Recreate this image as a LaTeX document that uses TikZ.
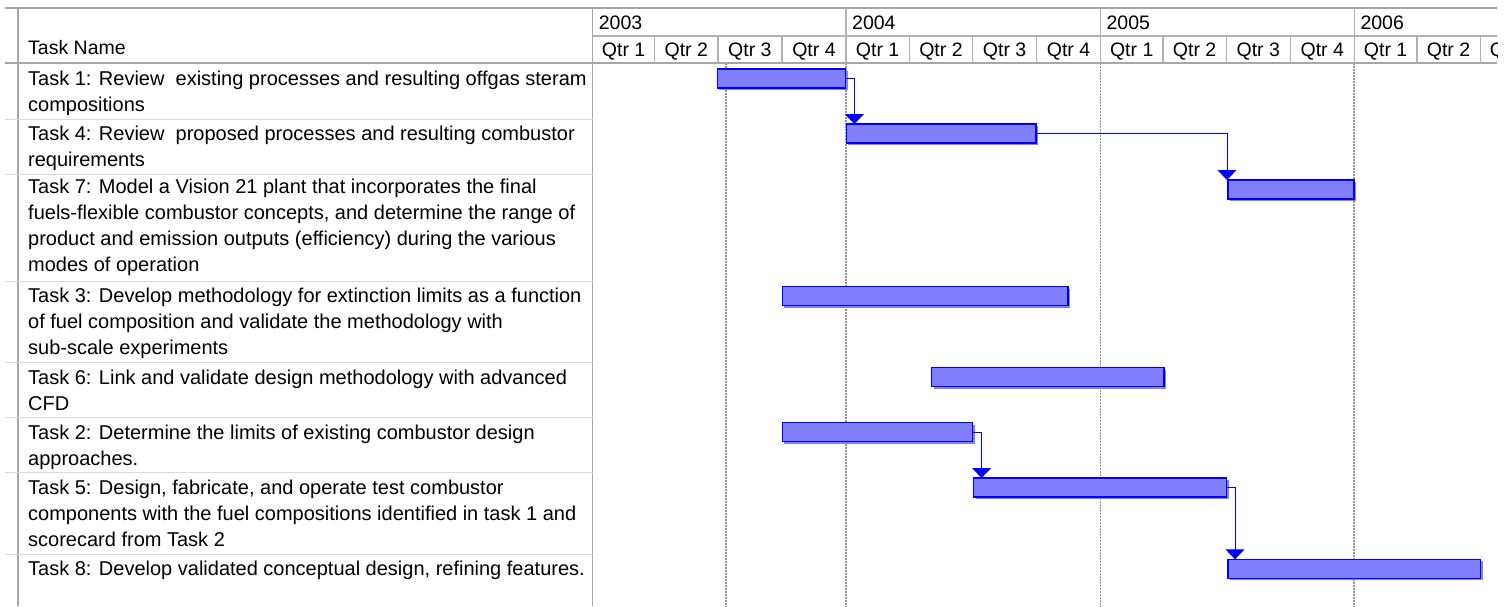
\documentclass[tikz,border=0pt]{standalone}
\usepackage{fontspec}
\setmainfont{Liberation Sans}
\usetikzlibrary{calc,arrows.meta,shadows}
\tikzset{
	taskbar/.style={draw=blue, line width=1.2pt, fill=blue!50, inner sep=0pt, outer sep=0pt, minimum height=19pt, anchor=north west,
		general shadow={fill=blue!50, shadow xshift=2pt, shadow yshift=-2pt}},
	tasklink/.style={draw=blue, line width=0.9pt, -{Triangle[width=19pt,length=10pt]}},
	tasktext/.style={anchor=north west, inner sep=0pt, align=left, font=\fontsize{20}{26}\selectfont},
	headtext/.style={inner sep=0pt, font=\fontsize{19.5}{24}\selectfont},
	gridline/.style={line width=1.2pt, color=black!35},
	rowline/.style={line width=1pt, color=black!15},
	dateline/.style={line width=1.7pt, color=black!42, dash pattern=on 1pt off 0.5pt}
}
\def\ganttbar(#1)(#2:#3:#4){\node[taskbar, minimum width=#3pt-#2pt] (#1) at (#2,#4) {};}

\begin{document}
\begin{tikzpicture}[x=1pt, y=-1pt]
			%%%%% START %%%%%
			\useasboundingbox (0,0) rectangle (1512,606);
			\fill[white] (0,0) rectangle (1512,606);
			\clip (0,0) rectangle (1497,606);
			
			% table frame
			\draw[gridline] (5,8) -- (1497,8);
			\draw[gridline] (5,63) -- (1497,63);
			\draw[gridline] (18,8) -- (18,606);
			\draw[gridline] (592.7,8) -- (592.7,606);
			\draw[gridline, color=black!30] (592.7,36) -- (1497,36);
			\foreach \y in {119.3,174.3,281.3,362.7,417.3,472.7,554}
				\draw[rowline] (5,\y) -- (592.7,\y);
			
			% timescale
			\node[headtext, anchor=base west] (taskname) at (28,54) {Task Name};
			\foreach \x/\yr in {592.7/2003,846/2004,1100.4/2005,1354.3/2006}
				\node[headtext, anchor=base west] (yr\yr) at (\x+6,29) {\yr};
			\foreach \x in {846,1100.4,1354.3}
				\draw[gridline, color=black!30] (\x,8) -- (\x,63);
			\foreach \a/\b/\q in {592.7/654.6/1,654.6/717.9/2,717.9/781.9/3,781.9/846/4,
				846/909.3/1,909.3/972.6/2,972.6/1036.6/3,1036.6/1100.4/4,
				1100.4/1163/1,1163/1226.3/2,1226.3/1290.3/3,1290.3/1354.3/4,
				1354.3/1416.9/1,1416.9/1480.2/2,1480.2/1543/3}{
				\draw[gridline, color=black!30] (\b,36) -- (\b,63);
				\node[headtext, anchor=base] at ({(\a+\b)/2},56.5) {Qtr \q};
			}
			\foreach \x in {726.3,846,1100.4,1354.3}
				\draw[dateline] (\x,64) -- (\x,606);
			
			% task names
			\node[tasktext] (n1) at (28,70) {\rule{0pt}{15pt}Task 1: Review\ \ existing processes and resulting offgas steram\\compositions};
			\node[tasktext] (n4) at (28,125) {\rule{0pt}{15pt}Task 4: Review\ \ proposed processes and resulting combustor\\requirements};
			\node[tasktext] (n7) at (28,178) {\rule{0pt}{15pt}Task 7: Model a Vision 21 plant that incorporates the final\\fuels-flexible combustor concepts, and determine the range of\\product and emission outputs (efficiency) during the various\\modes of operation};
			\node[tasktext] (n3) at (28,287) {\rule{0pt}{15pt}Task 3: Develop methodology for extinction limits as a function\\of fuel composition and validate the methodology with\\sub-scale experiments};
			\node[tasktext] (n6) at (28,369) {\rule{0pt}{15pt}Task 6: Link and validate design methodology with advanced\\CFD};
			\node[tasktext] (n2) at (28,424) {\rule{0pt}{15pt}Task 2: Determine the limits of existing combustor design\\approaches.};
			\node[tasktext] (n5) at (28,479) {\rule{0pt}{15pt}Task 5: Design, fabricate, and operate test combustor\\components with the fuel compositions identified in task 1 and\\scorecard from Task 2};
			\node[tasktext] (n8) at (28,560) {\rule{0pt}{15pt}Task 8: Develop validated conceptual design, refining features.};
			
			% bars
			\ganttbar(t1)(717.3:845.7:69)
			\ganttbar(t4)(846.4:1036:124)
			\ganttbar(t7)(1228:1354:180)
			\ganttbar(t3)(782.3:1068:286.5)
			\ganttbar(t6)(931.5:1164:367.5)
			\ganttbar(t2)(782.3:972.5:422.5)
			\ganttbar(t5)(973.6:1226.7:478)
			\ganttbar(t8)(1228:1480.7:559.3)
			
			% links
			\draw[tasklink] (t1.east) -| ([xshift=8pt]t4.north west);
			\draw[tasklink] (t4.east) -| ([xshift=-1pt]t7.north west);
			\draw[tasklink] (t2.east) -| ([xshift=8pt]t5.north west);
			\draw[tasklink] (t5.east) -| ([xshift=7pt]t8.north west);
			
			%%%%% END %%%%%
\end{tikzpicture}
\end{document}
